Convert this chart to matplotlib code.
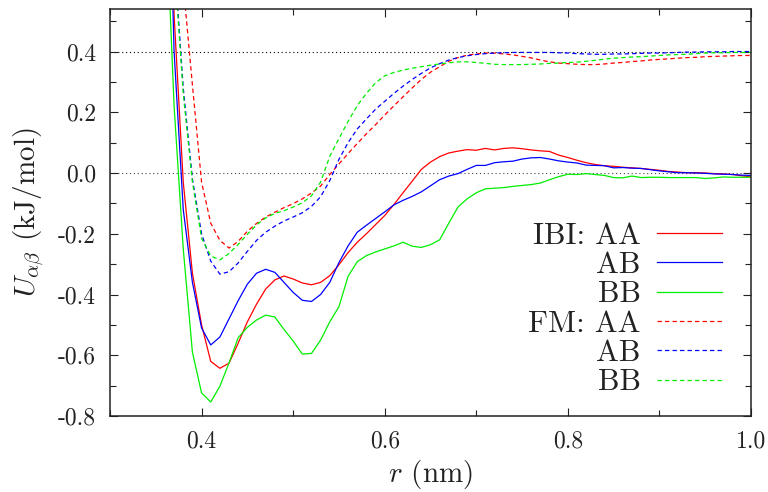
import matplotlib
matplotlib.use("Agg")
import matplotlib.pyplot as plt
from matplotlib.ticker import MultipleLocator, FormatStrFormatter

plt.rcParams['font.family'] = ['cmr10', 'DejaVu Serif']
plt.rcParams['mathtext.fontset'] = 'cm'
plt.rcParams['axes.unicode_minus'] = False

r = [0.36, 0.37, 0.38, 0.39, 0.40, 0.41, 0.42, 0.43, 0.44, 0.45,
     0.46, 0.47, 0.48, 0.49, 0.50, 0.51, 0.52, 0.53, 0.54, 0.55,
     0.56, 0.57, 0.58, 0.59, 0.60, 0.61, 0.62, 0.63, 0.64, 0.65,
     0.66, 0.67, 0.68, 0.69, 0.70, 0.71, 0.72, 0.73, 0.74, 0.75,
     0.76, 0.77, 0.78, 0.79, 0.80, 0.81, 0.82, 0.83, 0.84, 0.85,
     0.86, 0.87, 0.88, 0.89, 0.90, 0.91, 0.92, 0.93, 0.94, 0.95,
     0.96, 0.97, 0.98, 0.99, 1.00]

# IBI potentials
ibi_aa = [1.6, 0.52, -0.03, -0.33, -0.50, -0.62, -0.643, -0.626, -0.56, -0.49,
          -0.432, -0.382, -0.352, -0.339, -0.349, -0.362, -0.368, -0.360, -0.338, -0.302,
          -0.262, -0.228, -0.200, -0.170, -0.140, -0.104, -0.065, -0.027, 0.012, 0.036,
          0.054, 0.066, 0.072, 0.077, 0.075, 0.081, 0.076, 0.081, 0.083, 0.080,
          0.076, 0.073, 0.071, 0.059, 0.051, 0.042, 0.034, 0.028, 0.024, 0.022,
          0.019, 0.017, 0.015, 0.012, 0.009, 0.005, 0.003, 0.001, 0.001, 0.000,
          -0.002, -0.003, -0.005, -0.009, -0.013]
ibi_ab = [1.5, 0.40, -0.12, -0.36, -0.51, -0.566, -0.540, -0.48, -0.42, -0.366,
          -0.330, -0.317, -0.327, -0.360, -0.393, -0.419, -0.423, -0.400, -0.360, -0.295,
          -0.240, -0.195, -0.172, -0.150, -0.128, -0.105, -0.090, -0.077, -0.062, -0.042,
          -0.022, -0.010, -0.002, 0.012, 0.025, 0.025, 0.034, 0.037, 0.039, 0.046,
          0.050, 0.051, 0.046, 0.040, 0.036, 0.033, 0.026, 0.025, 0.024, 0.017,
          0.018, 0.016, 0.015, 0.011, 0.007, 0.004, 0.001, 0.001, 0.000, -0.001,
          -0.003, -0.004, -0.005, -0.007, -0.008]
ibi_bb = [0.95, 0.22, -0.25, -0.59, -0.724, -0.754, -0.702, -0.625, -0.542, -0.508,
          -0.484, -0.468, -0.474, -0.515, -0.553, -0.596, -0.594, -0.550, -0.490, -0.440,
          -0.340, -0.292, -0.272, -0.260, -0.250, -0.240, -0.228, -0.241, -0.245, -0.236,
          -0.220, -0.165, -0.112, -0.085, -0.065, -0.052, -0.050, -0.048, -0.044, -0.041,
          -0.038, -0.033, -0.022, -0.012, -0.004, -0.005, -0.002, -0.005, -0.008, -0.015,
          -0.016, -0.010, -0.015, -0.014, -0.014, -0.015, -0.015, -0.015, -0.015, -0.018,
          -0.016, -0.013, -0.014, -0.014, -0.014]

# FM potentials (shifted up by 0.4 kJ/mol in the figure)
fm_aa = [1.9, 1.2, 0.62, 0.29, -0.03, -0.165, -0.222, -0.247, -0.225, -0.192,
         -0.166, -0.145, -0.129, -0.114, -0.101, -0.085, -0.066, -0.043, -0.005, 0.030,
         0.064, 0.097, 0.129, 0.159, 0.191, 0.221, 0.251, 0.280, 0.308, 0.332,
         0.350, 0.368, 0.380, 0.388, 0.392, 0.395, 0.395, 0.392, 0.389, 0.384,
         0.379, 0.372, 0.366, 0.362, 0.360, 0.358, 0.357, 0.357, 0.359, 0.362,
         0.364, 0.367, 0.369, 0.372, 0.374, 0.376, 0.378, 0.380, 0.381, 0.383,
         0.384, 0.385, 0.386, 0.387, 0.387]
fm_ab = [1.3, 0.72, 0.28, -0.02, -0.20, -0.29, -0.333, -0.325, -0.296, -0.258,
         -0.222, -0.195, -0.175, -0.158, -0.145, -0.131, -0.110, -0.078, -0.025, 0.045,
         0.100, 0.145, 0.178, 0.210, 0.236, 0.262, 0.286, 0.308, 0.328, 0.346,
         0.360, 0.372, 0.380, 0.386, 0.390, 0.393, 0.395, 0.396, 0.397, 0.397,
         0.397, 0.397, 0.397, 0.396, 0.395, 0.393, 0.392, 0.391, 0.391, 0.392,
         0.392, 0.393, 0.394, 0.395, 0.395, 0.396, 0.397, 0.398, 0.398, 0.399,
         0.399, 0.399, 0.400, 0.400, 0.400]
fm_bb = [1.3, 0.70, 0.26, -0.03, -0.215, -0.273, -0.286, -0.265, -0.235, -0.202,
         -0.171, -0.148, -0.133, -0.124, -0.112, -0.098, -0.075, -0.030, 0.055, 0.113,
         0.170, 0.222, 0.262, 0.297, 0.320, 0.331, 0.339, 0.345, 0.350, 0.355,
         0.359, 0.363, 0.366, 0.366, 0.364, 0.361, 0.358, 0.357, 0.357, 0.357,
         0.358, 0.359, 0.361, 0.362, 0.364, 0.365, 0.368, 0.371, 0.375, 0.378,
         0.380, 0.382, 0.383, 0.385, 0.387, 0.389, 0.390, 0.391, 0.393, 0.395,
         0.396, 0.396, 0.397, 0.397, 0.397]

labels = ['IBI: AA', 'AB', 'BB', 'FM: AA', 'AB', 'BB']
colors = ['#ff0000', '#0000ff', '#00ee00']

fig = plt.figure(figsize=(7.68, 4.92), dpi=100)
ax = fig.add_axes([110 / 768, 76 / 492, 641 / 768, 407 / 492])

ax.axhline(0.4, color='black', lw=0.8, ls=(0, (1, 2.5)), zorder=1)
ax.axhline(0.0, color='#444444', lw=0.8, ls=(0, (1, 2.5)), zorder=1)

handles = []
for y, c in zip([ibi_aa, ibi_ab, ibi_bb], colors):
    h, = ax.plot(r, y, color=c, lw=0.9)
    handles.append(h)
for y, c in zip([fm_aa, fm_ab, fm_bb], colors):
    h, = ax.plot(r, y, color=c, lw=0.9, dashes=(3.5, 2.5))
    handles.append(h)

ax.set_xlim(0.3, 1.0)
ax.set_ylim(-0.8, 0.54)
ax.xaxis.set_major_locator(MultipleLocator(0.2))
ax.xaxis.set_minor_locator(MultipleLocator(0.1))
ax.yaxis.set_major_locator(MultipleLocator(0.2))
ax.yaxis.set_minor_locator(MultipleLocator(0.1))
ax.xaxis.set_major_formatter(FormatStrFormatter('%.1f'))
ax.yaxis.set_major_formatter(FormatStrFormatter('%.1f'))
ax.tick_params(which='both', direction='in', top=True, right=True,
               colors='#222222', labelsize=17, width=0.8)
ax.tick_params(which='major', length=6, pad=10)
ax.tick_params(which='minor', length=4)
for s in ax.spines.values():
    s.set_linewidth(1.1)
    s.set_color('#222222')

ax.set_xlabel(r'$r$ (nm)', fontsize=21, color='#222222', labelpad=4)
ax.set_ylabel(r'$U_{\alpha\beta}$ (kJ/mol)', fontsize=21, color='#222222', labelpad=8)

ax.legend(handles, labels, loc='center right', bbox_to_anchor=(0.955, 0.262),
          frameon=False, markerfirst=False, fontsize=22, borderpad=0,
          borderaxespad=0, handlelength=2.12, handletextpad=0.55,
          labelspacing=0.06, labelcolor='#222222')

fig.savefig('out.png', dpi=100)
